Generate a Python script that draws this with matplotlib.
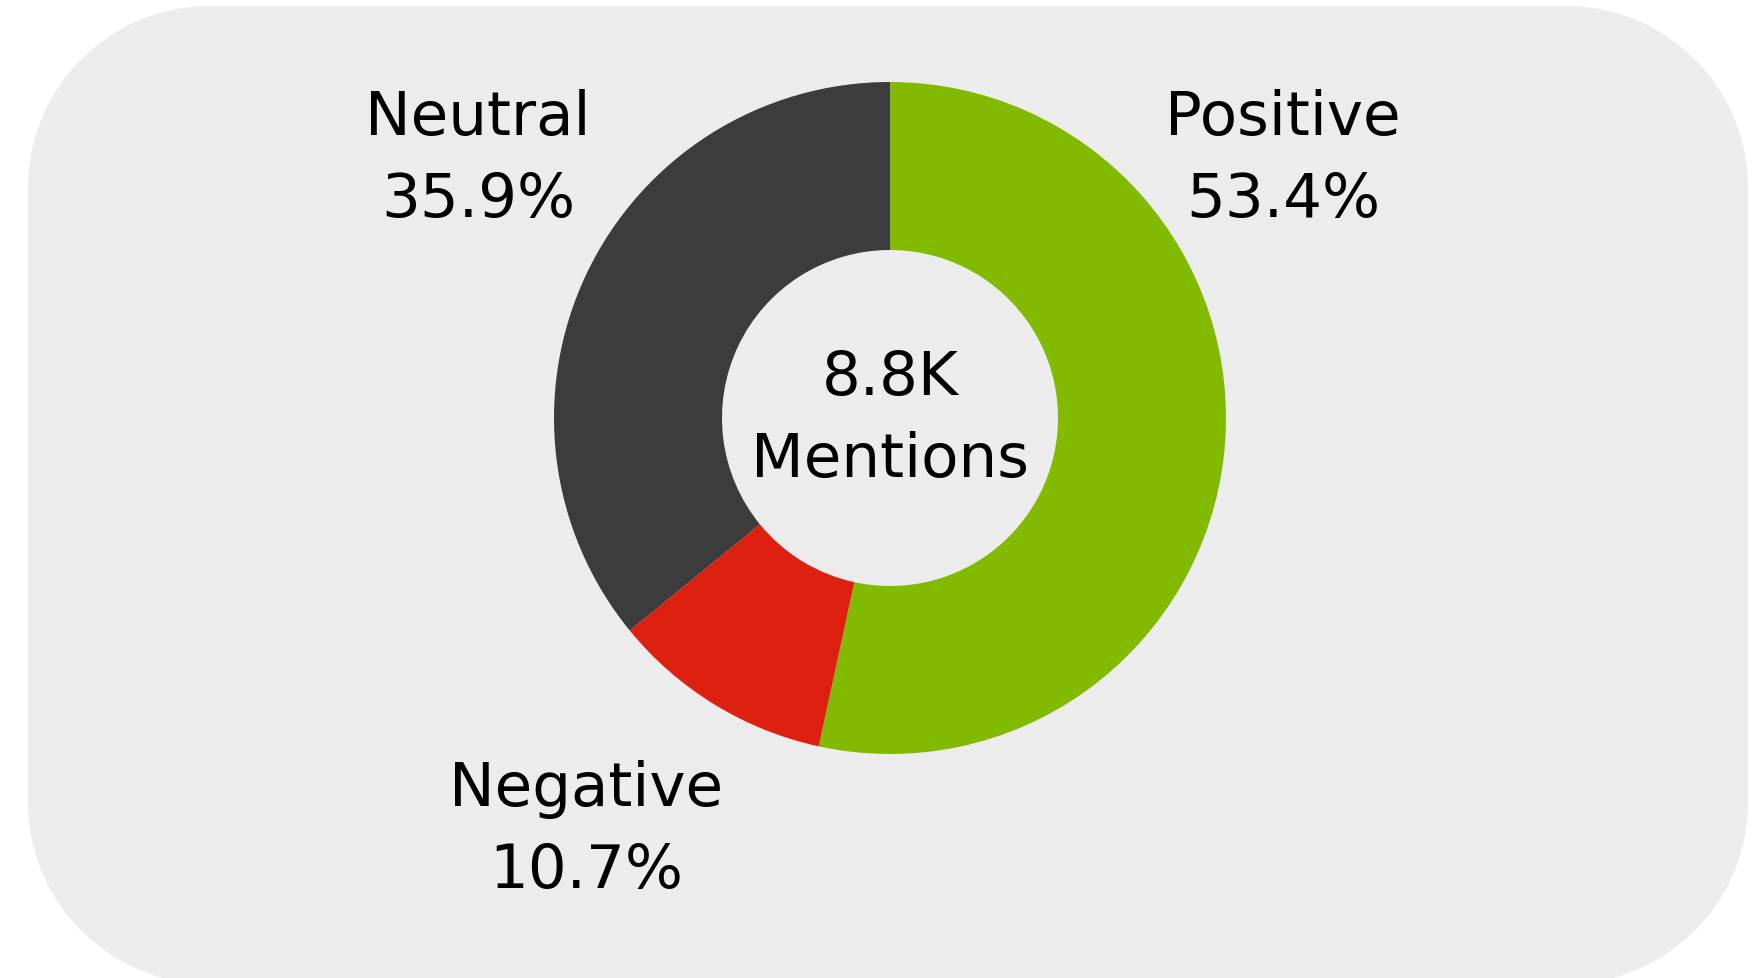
import matplotlib
matplotlib.use("Agg")
import matplotlib.pyplot as plt
from matplotlib.patches import Rectangle, Circle

categories = ["Positive", "Negative", "Neutral"]
shares = [53.4, 10.7, 35.9]
colors = ["#82BA00", "#DE2011", "#3C3C3C"]
center_lines = ["8.8K", "Mentions"]

W, H = 1757, 979
fig = plt.figure(figsize=(W / 100, H / 100), dpi=100)
fig.patch.set_facecolor("white")
ax = fig.add_axes([0, 0, 1, 1])

# rounded background panel built from rectangles and circles
bg_col = "#ECECEC"
x0, x1, y0, y1, rr = 28, 1748, -6, 972, 182
for patch in [Rectangle((x0 + rr, y0), x1 - x0 - 2 * rr, y1 - y0),
              Rectangle((x0, y0 + rr), x1 - x0, y1 - y0 - 2 * rr),
              Circle((x0 + rr, y0 + rr), rr), Circle((x1 - rr, y0 + rr), rr),
              Circle((x0 + rr, y1 - rr), rr), Circle((x1 - rr, y1 - rr), rr)]:
    patch.set_facecolor(bg_col)
    patch.set_edgecolor("none")
    patch.set_zorder(0)
    ax.add_patch(patch)

cx, cy, r = 890, 560, 336
ax.pie(shares, colors=colors, startangle=90, counterclock=False, center=(cx, cy),
       radius=r, wedgeprops=dict(width=r * 0.5, edgecolor="none", linewidth=0), frame=True)
ax.set_xlim(0, W)
ax.set_ylim(0, H)
ax.set_aspect("equal")
ax.axis("off")

fs = 44
ls = 1.5
label_pos = {"Positive": (1283, 819), "Negative": (586, 148), "Neutral": (478, 819)}
for cat, val in zip(categories, shares):
    x, y = label_pos[cat]
    ax.text(x, y, f"{cat}\n{val:.1f}%", ha="center", va="center", fontsize=fs,
            color="black", linespacing=ls, family="DejaVu Sans")

ax.text(cx, cy - 1, "\n".join(center_lines), ha="center", va="center", fontsize=fs,
        color="black", linespacing=ls, family="DejaVu Sans")

fig.savefig("out.png", dpi=100, facecolor="white")
